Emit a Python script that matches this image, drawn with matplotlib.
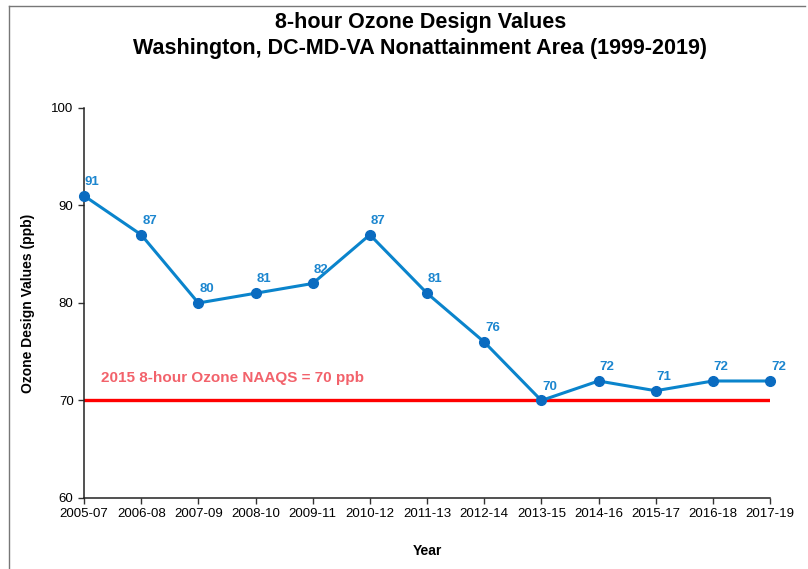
import matplotlib
matplotlib.use('Agg')
import matplotlib.pyplot as plt
from matplotlib.lines import Line2D

years = ["2005-07", "2006-08", "2007-09", "2008-10", "2009-11", "2010-12", "2011-13",
         "2012-14", "2013-15", "2014-16", "2015-17", "2016-18", "2017-19"]
design_values = [91, 87, 80, 81, 82, 87, 81, 76, 70, 72, 71, 72, 72]
naaqs = 70
naaqs_label = "2015 8-hour Ozone NAAQS = 70 ppb"

plt.rcParams['font.family'] = ['Liberation Sans', 'DejaVu Sans']

fig = plt.figure(figsize=(8.08, 5.69), dpi=100)
ax = fig.add_axes([0.104, 0.1248, 0.849, 0.6854])

x = list(range(len(years)))

# standard line across the whole range
ax.plot([x[0], x[-1]], [naaqs, naaqs], color='#FF0000', linewidth=2.4, zorder=2)
ax.text(0.3, 72.3, naaqs_label, color='#F2626B', fontsize=11, fontweight='bold',
        va='center', ha='left')

ax.plot(x, design_values, color='#0A84CC', linewidth=2.2, zorder=3, clip_on=False)
ax.plot(x, design_values, 'o', color='#0A6BC0', markersize=7, zorder=4, clip_on=False)
for xi, v in zip(x, design_values):
    ax.annotate(str(v), (xi, v), xytext=(6, 10), textcoords='offset points',
                ha='center', va='center', color='#1C86CF', fontsize=9.5, fontweight='bold')

ax.set_xlim(0, len(years) - 1)
ax.set_ylim(60, 100)
ax.set_yticks([60, 70, 80, 90, 100])
ax.set_xticks(x)
ax.set_xticklabels(years)
ax.tick_params(axis='both', labelsize=9.5, direction='out', length=4, width=1, color='#333333')

for side in ['top', 'right']:
    ax.spines[side].set_visible(False)
for side in ['left', 'bottom']:
    ax.spines[side].set_color('#222222')
    ax.spines[side].set_linewidth(1.1)

ax.set_ylabel('Ozone Design Values (ppb)', fontsize=10, fontweight='bold', labelpad=12)
ax.set_xlabel('Year', fontsize=10, fontweight='bold', labelpad=17)

fig.text(0.52, 0.961, '8-hour Ozone Design Values', ha='center', va='center',
         fontsize=15.5, fontweight='bold')
fig.text(0.52, 0.915, 'Washington, DC-MD-VA Nonattainment Area (1999-2019)', ha='center',
         va='center', fontsize=15.5, fontweight='bold')

# outer frame (left and top edges)
fig.add_artist(Line2D([9 / 808, 9 / 808], [0, 1 - 6 / 569], transform=fig.transFigure,
                      color='#777777', linewidth=1))
fig.add_artist(Line2D([9 / 808, 805 / 808], [1 - 6 / 569, 1 - 6 / 569], transform=fig.transFigure,
                      color='#777777', linewidth=1))

plt.savefig('out.png', dpi=100)
plt.close()
